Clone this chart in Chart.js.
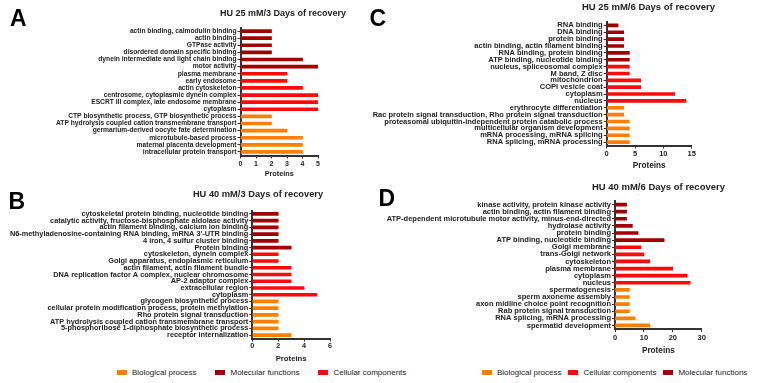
<!DOCTYPE html>
<html>
<head>
<meta charset="utf-8">
<script src="https://cdn.jsdelivr.net/npm/chart.js@4.4.1/dist/chart.umd.min.js"></script>
<style>
  html, body { margin: 0; padding: 0; background: #fff; }
  body { width: 758px; height: 383px; position: relative; overflow: hidden; font-family: 'Liberation Sans', Arial, sans-serif; }
  .panel { position: absolute; }
  .letter { position: absolute; font-weight: bold; font-size: 23px; line-height: 23px; color: #000; }
  .legend { position: absolute; top: 367px; height: 10px; display: flex; align-items: center; font-size: 8px; color: #1a1a1a; white-space: nowrap; }
  .legend .item { display: flex; align-items: center; }
  .legend .sw { display: inline-block; width: 10px; height: 5px; margin-right: 5px; }
</style>
</head>
<body>
<div class="panel" id="panelA"><canvas></canvas></div>
<div class="panel" id="panelB"><canvas></canvas></div>
<div class="panel" id="panelC"><canvas></canvas></div>
<div class="panel" id="panelD"><canvas></canvas></div>

<div class="letter" style="left:10px;top:7px">A</div>
<div class="letter" style="left:8.5px;top:190px">B</div>
<div class="letter" style="left:369.5px;top:7px">C</div>
<div class="letter" style="left:378.5px;top:187px">D</div>

<div class="legend" id="legendLeft" style="left:117px"></div>
<div class="legend" id="legendRight" style="left:482px"></div>

<script>
// M = molecular functions, C = cellular components, B = biological process
const groupNames = { B: 'Biological process', M: 'Molecular functions', C: 'Cellular components' };
const groupColors = { B: '#FF8000', M: '#A30000', C: '#FF0A0A' };

// A: HU 25 mM / 3 days
const aLabels = [
    'actin binding, calmodulin binding', 'actin binding', 'GTPase activity',
    'disordered domain specific binding', 'dynein intermediate and light chain binding', 'motor activity',
    'plasma membrane', 'early endosome', 'actin cytoskeleton',
    'centrosome, cytoplasmic dynein complex', 'ESCRT III complex, late endosome membrane', 'cytoplasm',
    'CTP biosynthetic process, GTP biosynthetic process', 'ATP hydrolysis coupled cation transmembrane transport',
    'germarium-derived oocyte fate determination', 'microtubule-based process',
    'maternal placenta development', 'intracellular protein transport'
];
const aValues = [2, 2, 2, 2, 4, 5, 3, 3, 4, 5, 5, 5, 2, 2, 3, 4, 4, 4];
const aGroups = ['M', 'M', 'M', 'M', 'M', 'M', 'C', 'C', 'C', 'C', 'C', 'C', 'B', 'B', 'B', 'B', 'B', 'B'];

// B: HU 40 mM / 3 days
const bLabels = [
    'cytoskeletal protein binding, nucleotide binding',
    'catalytic activity, fructose-bisphosphate aldolase activity',
    'actin filament binding, calcium ion binding',
    "N6-methyladenosine-containing RNA binding, mRNA 3'-UTR binding",
    '4 iron, 4 sulfur cluster binding', 'Protein binding',
    'cytoskeleton, dynein complex', 'Golgi apparatus, endoplasmic reticulum',
    'actin filament, actin filament bundle', 'DNA replication factor A complex, nuclear chromosome',
    'AP-2 adaptor complex', 'extracellular region', 'cytoplasm',
    'glycogen biosynthetic process', 'cellular protein modification process, protein methylation',
    'Rho protein signal transduction', 'ATP hydrolysis coupled cation transmembrane transport',
    '5-phosphoribose 1-diphosphate biosynthetic process', 'receptor internalization'
];
const bValues = [2, 2, 2, 2, 2, 3, 2, 2, 3, 3, 3, 4, 5, 2, 2, 2, 2, 2, 3];
const bGroups = ['M', 'M', 'M', 'M', 'M', 'M', 'C', 'C', 'C', 'C', 'C', 'C', 'C', 'B', 'B', 'B', 'B', 'B', 'B'];

// C: HU 25 mM / 6 days
const cLabels = [
    'RNA binding', 'DNA binding', 'protein binding', 'actin binding, actin filament binding',
    'RNA binding, protein binding', 'ATP binding, nucleotide binding',
    'nucleus, spliceosomal complex', 'M band, Z disc', 'mitochondrion', 'COPI vesicle coat',
    'cytoplasm', 'nucleus',
    'erythrocyte differentiation', 'Rac protein signal transduction, Rho protein signal transduction',
    'proteasomal ubiquitin-independent protein catabolic process', 'multicellular organism development',
    'mRNA processing, mRNA splicing', 'RNA splicing, mRNA processing'
];
const cValues = [2, 3, 3, 3, 4, 4, 4, 4, 6, 6, 12, 14, 3, 3, 4, 4, 4, 4];
const cGroups = ['M', 'M', 'M', 'M', 'M', 'M', 'C', 'C', 'C', 'C', 'C', 'C', 'B', 'B', 'B', 'B', 'B', 'B'];

// D: HU 40 mM / 6 days
const dLabels = [
    'kinase activity, protein kinase activity', 'actin binding, actin filament binding',
    'ATP-dependent microtubule motor activity, minus-end-directed', 'hydrolase activity',
    'protein binding', 'ATP binding, nucleotide binding',
    'Golgi membrane', 'trans-Golgi network', 'cytoskeleton', 'plasma membrane', 'cytoplasm', 'nucleus',
    'spermatogenesis', 'sperm axoneme assembly', 'axon midline choice point recognition',
    'Rab protein signal transduction', 'RNA splicing, mRNA processing', 'spermatid development'
];
const dValues = [4, 4, 4, 6, 8, 17, 9, 10, 12, 20, 25, 26, 5, 5, 5, 5, 7, 12];
const dGroups = ['M', 'M', 'M', 'M', 'M', 'M', 'C', 'C', 'C', 'C', 'C', 'C', 'B', 'B', 'B', 'B', 'B', 'B'];

const legendLeftOrder = ['B', 'M', 'C'];
const legendRightOrder = ['B', 'C', 'M'];

Chart.defaults.font.family = "'Liberation Sans', Arial, sans-serif";
Chart.defaults.color = '#222';

const TICK = 3;
const axisColor = '#333';

// each panel is one canvas; the y axis box starts at the canvas edge so
// the long category labels are not clipped, an empty right axis leaves room
// for the title, which Prism set off-centre from the plot
const drawPanel = (p) => {
    const wrap = document.getElementById(p.id);
    Object.assign(wrap.style, {
        left: p.box.left + 'px', top: p.box.top + 'px',
        width: (p.box.right - p.box.left) + 'px', height: (p.box.bottom - p.box.top) + 'px'
    });
    const yWidth = p.plot.left - p.box.left;
    const rWidth = p.box.right - p.plot.right;
    const xHeight = p.box.bottom - p.plot.bottom;
    const lhTitle = p.fonts.title * 1.2;
    const lhTick = p.fonts.tick * 1.2;
    const lhAxis = p.fonts.axis * 1.2;

    new Chart(wrap.querySelector('canvas'), {
        type: 'bar',
        data: {
            labels: p.labels,
            datasets: [{
                data: p.values,
                backgroundColor: p.groups.map(g => groupColors[g]),
                barThickness: 3,
                borderWidth: 0
            }]
        },
        options: {
            indexAxis: 'y',
            responsive: true,
            maintainAspectRatio: false,
            animation: false,
            layout: { padding: 0 },
            plugins: {
                legend: { display: false },
                tooltip: { enabled: false },
                title: {
                    display: true,
                    text: p.title,
                    align: p.titleAlign,
                    color: '#222',
                    font: { size: p.fonts.title, weight: 'bold' },
                    padding: {
                        top: p.titleY - p.box.top - lhTitle / 2,
                        bottom: p.plot.top - p.titleY - lhTitle / 2
                    }
                }
            },
            scales: {
                y: {
                    type: 'category',
                    offset: true,
                    grid: { drawOnChartArea: false, offset: false, tickLength: TICK, color: axisColor },
                    border: { color: axisColor, width: 2 },
                    ticks: { autoSkip: false, padding: 1, color: '#222', font: { size: p.fonts.label, weight: 'bold' } },
                    afterFit: (s) => { s.width = yWidth; }
                },
                x: {
                    type: 'linear',
                    min: 0,
                    max: p.max,
                    grid: { drawOnChartArea: false, tickLength: TICK, color: axisColor },
                    border: { color: axisColor, width: 2 },
                    ticks: {
                        stepSize: p.step,
                        padding: p.tickY - p.plot.bottom - TICK - lhTick / 2,
                        color: '#222',
                        font: { size: p.fonts.tick, weight: 'bold' }
                    },
                    title: {
                        display: true,
                        text: 'Proteins',
                        color: '#222',
                        font: { size: p.fonts.axis, weight: 'bold' },
                        padding: { top: 0, bottom: p.box.bottom - p.axisTitleY - lhAxis / 2 }
                    },
                    afterFit: (s) => { s.height = xHeight; }
                },
                yR: {
                    type: 'linear',
                    position: 'right',
                    grid: { display: false },
                    border: { display: false },
                    ticks: { display: false },
                    afterFit: (s) => { s.width = rWidth; }
                }
            }
        }
    });
};

drawPanel({
    id: 'panelA', title: 'HU 25 mM/3 Days of recovery', titleAlign: 'end',
    labels: aLabels, values: aValues, groups: aGroups, max: 5, step: 1,
    box: { left: 0, right: 346, top: 0, bottom: 181 },
    plot: { left: 240.5, right: 318, top: 27.5, bottom: 155.5 },
    titleY: 13.5, tickY: 164, axisTitleY: 174,
    fonts: { label: 6.7, title: 9, tick: 7, axis: 7.3 }
});

drawPanel({
    id: 'panelB', title: 'HU 40 mM/3 Days of recovery', titleAlign: 'center',
    labels: bLabels, values: bValues, groups: bGroups, max: 6, step: 2,
    box: { left: 0, right: 516, top: 184, bottom: 366 },
    plot: { left: 252.3, right: 330, top: 210.5, bottom: 338.5 },
    titleY: 194, tickY: 346, axisTitleY: 359,
    fonts: { label: 7.35, title: 9.3, tick: 7.2, axis: 7.75 }
});

drawPanel({
    id: 'panelC', title: 'HU 25 mM/6 Days of recovery', titleAlign: 'end',
    labels: cLabels, values: cValues, groups: cGroups, max: 15, step: 5,
    box: { left: 340, right: 715, top: 0, bottom: 173 },
    plot: { left: 606.7, right: 691.7, top: 22, bottom: 145.5 },
    titleY: 7.5, tickY: 154, axisTitleY: 166,
    fonts: { label: 7.5, title: 9.5, tick: 7.5, axis: 8.2 }
});

drawPanel({
    id: 'panelD', title: 'HU 40 mM/6 Days of recovery', titleAlign: 'end',
    labels: dLabels, values: dValues, groups: dGroups, max: 30, step: 10,
    box: { left: 340, right: 725, top: 176, bottom: 358 },
    plot: { left: 615, right: 701.7, top: 201, bottom: 329 },
    titleY: 187.3, tickY: 338.3, axisTitleY: 351,
    fonts: { label: 7.5, title: 9.5, tick: 7.5, axis: 8.2 }
});

const buildLegend = (id, order, gap) => {
    const el = document.getElementById(id);
    order.forEach((g, i) => {
        const item = document.createElement('div');
        item.className = 'item';
        if (i > 0) item.style.marginLeft = gap + 'px';
        item.innerHTML = `<span class="sw" style="background:${groupColors[g]}"></span><span>${groupNames[g]}</span>`;
        el.appendChild(item);
    });
};
buildLegend('legendLeft', legendLeftOrder, 19);
buildLegend('legendRight', legendRightOrder, 7);
</script>
</body>
</html>
